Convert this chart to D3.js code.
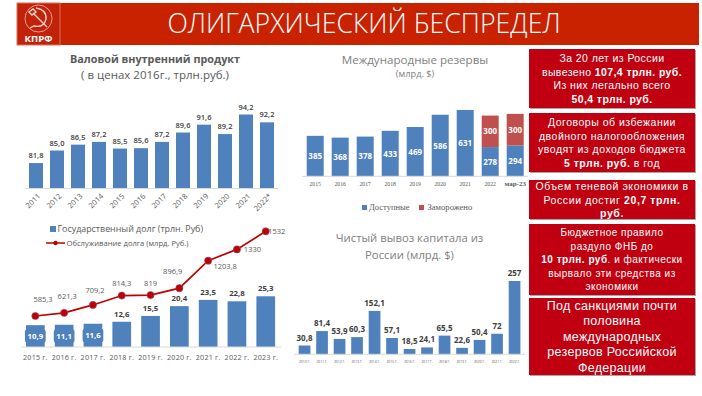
<!DOCTYPE html>
<html lang="ru">

<head>
    <title>Олигархический беспредел</title>
    <meta charset="utf-8">
    <script src="https://d3js.org/d3.v7.min.js"></script>
    <style>
        html, body { margin: 0; padding: 0; background: #fff; }
        svg { display: block; }
        text { font-family: "Open Sans", sans-serif; }
        .box text { font-family: "Liberation Sans", sans-serif; fill: #fff; text-anchor: middle; }
    </style>
</head>

<body>
    <div id="container"></div>
    <script>
        // Data
        const titleText = "ОЛИГАРХИЧЕСКИЙ БЕСПРЕДЕЛ";

        const gdpYears = ["2011", "2012", "2013", "2014", "2015", "2016", "2017", "2018", "2019", "2020", "2021", "2022*"];
        const gdpValues = [81.8, 85.0, 86.5, 87.2, 85.5, 85.6, 87.2, 89.6, 91.6, 89.2, 94.2, 92.2];

        const debtYears = ["2015 г.", "2016 г.", "2017 г.", "2018 г.", "2019 г.", "2020 г.", "2021 г.", "2022 г.", "2023 г."];
        const debtValues = [10.9, 11.1, 11.6, 12.6, 15.5, 20.4, 23.5, 22.8, 25.3];
        const serviceValues = [585.3, 621.3, 709.2, 814.3, 819, 896.9, 1203.8, 1330, 1532];

        const reserveYears = ["2015", "2016", "2017", "2018", "2019", "2020", "2021", "2022", "мар-23"];
        const reserveAvailable = [385, 368, 378, 433, 469, 586, 631, 278, 294];
        const reserveFrozen = [0, 0, 0, 0, 0, 0, 0, 300, 300];

        const capitalYears = ["2010 Г.", "2011 Г.", "2012 Г.", "2013 Г.", "2014 Г.", "2015 Г.", "2016 Г.", "2017 Г.", "2018 Г.", "2019 Г.", "2020 Г.", "2021 Г.", "2022 Г."];
        const capitalValues = [30.8, 81.4, 53.9, 60.3, 152.1, 57.1, 18.5, 24.1, 65.5, 22.6, 50.4, 72, 257];

        // Each line is a list of [text, bold]
        const box1Lines = [
            [["За 20 лет из России", false]],
            [["вывезено ", false], ["107,4 трлн. руб.", true]],
            [["Из них легально всего", false]],
            [["50,4 трлн. руб.", true]]
        ];
        const box2Lines = [
            [["Договоры об избежании", false]],
            [["двойного налогообложения", false]],
            [["уводят из доходов бюджета", false]],
            [["5 трлн. руб.", true], [" в год", false]]
        ];
        const box3Lines = [
            [["Объем теневой экономики в", false]],
            [["России достиг ", false], ["20,7 трлн.", true]],
            [["руб.", true]]
        ];
        const box4Lines = [
            [["Бюджетное правило", false]],
            [["раздуло ФНБ до", false]],
            [["10 трлн. руб", true], [". и фактически", false]],
            [["вырвало эти средства из", false]],
            [["экономики", false]]
        ];
        const box5Lines = [
            [["Под санкциями почти", false]],
            [["половина", false]],
            [["международных", false]],
            [["резервов Российской", false]],
            [["Федерации", false]]
        ];

        const blue = "#4f81bd";
        const red = "#c0504d";
        const boxRed = "#c00010";
        const grey = "#595959";

        // Offsets of the line labels from their points
        const serviceLabelDx = [7.6, 3, 2, 0, 0, -6.7, 17, 15.5, 2.5];
        const serviceLabelDy = [-14, -14, -12, -10, -9, -14, 8, 3, 3];

        const fmt = d => String(d).replace(".", ",");
        const fmt1 = d => d3.format(".1f")(d).replace(".", ",");

        // Draw canvas
        const svg = d3.select("#container")
            .append("svg")
            .attr("width", 702)
            .attr("height", 396);

        // Band scale from first bar position, step and bar width
        function bandScale(domain, firstBar, step, barWidth) {
            const p = 1 - barWidth / step;
            const start = firstBar - step * p;
            return d3.scaleBand()
                .domain(domain)
                .range([start, start + step * (domain.length + p)])
                .paddingInner(p)
                .paddingOuter(p);
        }

        function centerText(x, y, str, size, color, weight) {
            return svg.append("text")
                .attr("x", x)
                .attr("y", y)
                .attr("text-anchor", "middle")
                .attr("fill", color)
                .style("font-size", size + "px")
                .style("font-weight", weight || "normal")
                .text(str);
        }

        function bottomAxis(scale, baseline, tickSize, tickColor, lineFrom, lineTo) {
            const g = svg.append("g")
                .attr("transform", `translate(0,${baseline})`)
                .call(d3.axisBottom(scale).tickSize(0).tickPadding(6));
            g.select(".domain").remove();
            g.append("line")
                .attr("x1", lineFrom)
                .attr("x2", lineTo)
                .attr("stroke", "#d9d9d9");
            g.selectAll("text")
                .attr("fill", tickColor)
                .style("font-size", tickSize + "px")
                .style("font-family", "'Open Sans', sans-serif");
            return g;
        }

        function bars(cats, vals, x, y, color) {
            svg.append("g").selectAll("rect")
                .data(vals)
                .enter().append("rect")
                .attr("x", (d, i) => x(cats[i]))
                .attr("y", d => y(d))
                .attr("width", x.bandwidth())
                .attr("height", d => y.range()[0] - y(d))
                .attr("fill", color);
        }

        function barLabels(cats, vals, x, y, format, size, weight, color) {
            svg.append("g").selectAll("text")
                .data(vals)
                .enter().append("text")
                .attr("x", (d, i) => x(cats[i]) + x.bandwidth() / 2)
                .attr("y", d => y(d) - 5)
                .attr("text-anchor", "middle")
                .attr("fill", color)
                .style("font-size", size + "px")
                .style("font-weight", weight)
                .text(format);
        }

        // Header
        svg.append("rect").attr("x", 17).attr("y", 3).attr("width", 682).attr("height", 42).attr("fill", "#c82200");
        svg.append("rect").attr("x", 17).attr("y", 3).attr("width", 43).attr("height", 42)
            .attr("fill", "#c3220a").attr("stroke", "#d8705c").attr("stroke-width", 1);
        centerText(364, 33, titleText, 26.7, "#fff", 300);

        // Logo
        const logo = svg.append("g").attr("fill", "none").attr("stroke", "#f4d4cc");
        logo.append("circle").attr("cx", 38.5).attr("cy", 18.5).attr("r", 13.5).attr("stroke-width", 0.7);
        logo.append("path").attr("d", "M29 12 L33 9 L36 12 L32 15 Z M33 13 L47 27").attr("stroke-width", 1.4);
        logo.append("path").attr("d", "M36 8 Q47 10 46 19 Q44 28 34 26 L30 28").attr("stroke-width", 1.3);
        centerText(38.5, 41.5, "КПРФ", 9.6, "#fff", "bold");

        // GDP chart
        centerText(155, 63, "Валовой внутренний продукт", 10.8, grey, "bold");
        centerText(155, 79, "( в ценах 2016г., трлн.руб.)", 11.5, grey);

        const gdpX = bandScale(gdpYears, 29, 21, 14);
        const gdpY = d3.scaleLinear().domain([75.3, 94.2]).range([188.5, 114.5]);
        bars(gdpYears, gdpValues, gdpX, gdpY, blue);
        barLabels(gdpYears, gdpValues, gdpX, gdpY, fmt1, 7.5, 600, "#404040");
        const gdpAxis = bottomAxis(gdpX, 188.5, 7.5, grey, 25, 278);
        gdpAxis.selectAll("text")
            .attr("text-anchor", "end")
            .attr("dx", "2")
            .attr("dy", "5")
            .attr("transform", function () {
                return `rotate(-45,0,${this.getAttribute("y")})`;
            });

        // Debt chart
        const debtX = bandScale(debtYears, 26, 28.8, 18.7);
        const debtY = d3.scaleLinear().domain([0, 25.3]).range([347, 296.3]);
        const serviceY = d3.scaleLinear().domain([0, 1532]).range([368.4, 231.3]);
        bars(debtYears, debtValues, debtX, debtY, blue);
        const debtAxis = bottomAxis(debtX, 347, 7.2, grey, 22, 281);
        debtAxis.selectAll("text").attr("dy", "7").style("letter-spacing", "0.2px");

        // First three debt labels sit inside their bars on a rounded plate
        const smallDebt = debtValues.slice(0, 3);
        svg.append("g").selectAll("rect")
            .data(smallDebt)
            .enter().append("rect")
            .attr("x", (d, i) => debtX(debtYears[i]) - 1)
            .attr("y", d => debtY(d / 2) - 7)
            .attr("width", debtX.bandwidth() + 2)
            .attr("height", 14)
            .attr("rx", 3)
            .attr("fill", blue);

        svg.append("g").selectAll("text")
            .data(debtValues)
            .enter().append("text")
            .attr("x", (d, i) => debtX(debtYears[i]) + debtX.bandwidth() / 2)
            .attr("y", (d, i) => i < 3 ? debtY(d / 2) + 3 : debtY(d) - 5)
            .attr("text-anchor", "middle")
            .attr("fill", (d, i) => i < 3 ? "#fff" : "#404040")
            .style("font-size", "7.8px")
            .style("font-weight", 700)
            .text(fmt);

        const serviceLine = d3.line()
            .x((d, i) => debtX(debtYears[i]) + debtX.bandwidth() / 2)
            .y(d => serviceY(d));

        svg.append("path")
            .datum(serviceValues)
            .attr("d", serviceLine)
            .attr("fill", "none")
            .attr("stroke", "#c00000")
            .attr("stroke-width", 1.7);

        svg.append("g").selectAll("circle")
            .data(serviceValues)
            .enter().append("circle")
            .attr("cx", (d, i) => debtX(debtYears[i]) + debtX.bandwidth() / 2)
            .attr("cy", d => serviceY(d))
            .attr("r", 3.6)
            .attr("fill", "#c00000")
            .attr("stroke", "#7a5a8c")
            .attr("stroke-width", 0.6);

        svg.append("g").selectAll("text")
            .data(serviceValues)
            .enter().append("text")
            .attr("x", (d, i) => debtX(debtYears[i]) + debtX.bandwidth() / 2 + serviceLabelDx[i])
            .attr("y", (d, i) => serviceY(d) + serviceLabelDy[i])
            .attr("text-anchor", (d, i) => i === 8 ? "start" : "middle")
            .attr("fill", grey)
            .style("font-size", "7.5px")
            .text(fmt);

        // Debt legend
        svg.append("rect").attr("x", 50).attr("y", 226).attr("width", 6).attr("height", 6).attr("fill", blue);
        svg.append("text").attr("x", 57.5).attr("y", 232).attr("fill", grey)
            .style("font-size", "8.9px").text("Государственный долг (трлн. Руб)");
        svg.append("line").attr("x1", 46).attr("x2", 65).attr("y1", 243).attr("y2", 243)
            .attr("stroke", "#c00000").attr("stroke-width", 1.5);
        svg.append("circle").attr("cx", 55.5).attr("cy", 243).attr("r", 2.2).attr("fill", "#c00000");
        svg.append("text").attr("x", 66.5).attr("y", 245.5).attr("fill", grey)
            .style("font-size", "7.6px").text("Обслуживание долга (млрд. Руб.)");

        // Reserves chart
        centerText(415, 64, "Международные резервы", 11.6, "#7f7f7f");
        centerText(415, 77, "(млрд. $)", 9.2, "#7f7f7f");

        const resX = bandScale(reserveYears, 306.7, 25, 17);
        const resY = d3.scaleLinear().domain([0, 631]).range([176.3, 110]);
        bars(reserveYears, reserveAvailable, resX, resY, blue);

        const frozenRows = reserveYears
            .map((year, i) => ({ year: year, base: reserveAvailable[i], value: reserveFrozen[i] }))
            .filter(d => d.value > 0);

        svg.append("g").selectAll("rect")
            .data(frozenRows)
            .enter().append("rect")
            .attr("x", d => resX(d.year))
            .attr("y", d => resY(d.base + d.value))
            .attr("width", resX.bandwidth())
            .attr("height", d => resY(0) - resY(d.value))
            .attr("fill", red);

        svg.append("g").selectAll("text")
            .data(reserveAvailable)
            .enter().append("text")
            .attr("x", (d, i) => resX(reserveYears[i]) + resX.bandwidth() / 2)
            .attr("y", d => resY(d / 2) + 3)
            .attr("text-anchor", "middle")
            .attr("fill", "#fff")
            .style("font-size", "8px")
            .style("font-weight", 700)
            .text(fmt);

        svg.append("g").selectAll("text")
            .data(frozenRows)
            .enter().append("text")
            .attr("x", d => resX(d.year) + resX.bandwidth() / 2)
            .attr("y", d => resY(d.base + d.value / 2) + 3)
            .attr("text-anchor", "middle")
            .attr("fill", "#fff")
            .style("font-size", "8px")
            .style("font-weight", 700)
            .text(d => d.value);

        const resAxis = bottomAxis(resX, 176.3, 5.8, grey, 302, 528);
        resAxis.selectAll("text")
            .attr("dy", "4")
            .style("font-family", "'Liberation Serif', serif");
        resAxis.selectAll(".tick:last-of-type text")
            .style("font-size", "7px")
            .style("font-weight", 700);

        svg.append("rect").attr("x", 362).attr("y", 205).attr("width", 5).attr("height", 5).attr("fill", blue);
        svg.append("text").attr("x", 369).attr("y", 210).attr("fill", grey)
            .style("font-family", "'Liberation Serif', serif").style("font-size", "8.5px").text("Доступные");
        svg.append("rect").attr("x", 419).attr("y", 205).attr("width", 5).attr("height", 5).attr("fill", red);
        svg.append("text").attr("x", 427.5).attr("y", 210).attr("fill", grey)
            .style("font-family", "'Liberation Serif', serif").style("font-size", "8.6px").text("Заморожено");

        // Capital outflow chart
        centerText(409.5, 242, "Чистый вывоз капитала из", 11.3, "#7f7f7f");
        centerText(409.5, 259, "России (млрд. $)", 11.3, "#7f7f7f");

        const capX = bandScale(capitalYears, 298.7, 17.5, 11.7);
        const capY = d3.scaleLinear().domain([0, 257]).range([354.3, 281]);
        bars(capitalYears, capitalValues, capX, capY, blue);
        barLabels(capitalYears, capitalValues, capX, capY, fmt, 8, 700, "#404040");
        const capAxis = bottomAxis(capX, 354.3, 3.4, grey, 294, 525);
        capAxis.selectAll("text").attr("dy", "3");

        // Right column boxes
        function textBox(lines, top, bottom, size, spacing, lineStep, firstBase) {
            const g = svg.append("g").attr("class", "box");
            g.append("rect").attr("x", 530).attr("y", top + 1).attr("width", 166).attr("height", bottom - top).attr("fill", "#a6a6a6");
            g.append("rect").attr("x", 529).attr("y", top).attr("width", 166).attr("height", bottom - top).attr("fill", boxRed);
            lines.forEach((parts, i) => {
                const t = g.append("text")
                    .attr("x", 612)
                    .attr("y", firstBase + i * lineStep)
                    .style("font-size", size + "px")
                    .style("letter-spacing", spacing + "px");
                parts.forEach(p => {
                    t.append("tspan")
                        .style("font-weight", p[1] ? "bold" : "normal")
                        .text(p[0]);
                });
            });
        }

        textBox(box1Lines, 49, 108, 10.5, 0.4, 13.7, 62);
        textBox(box2Lines, 113, 172, 10.5, 0.5, 13.7, 126);
        textBox(box3Lines, 180, 219, 10.5, 0.6, 13.5, 190);
        textBox(box4Lines, 224, 295, 10, 0.5, 13.6, 236);
        textBox(box5Lines, 298, 375, 12.5, 0.3, 15.6, 309.5);
    </script>
</body>

</html>
